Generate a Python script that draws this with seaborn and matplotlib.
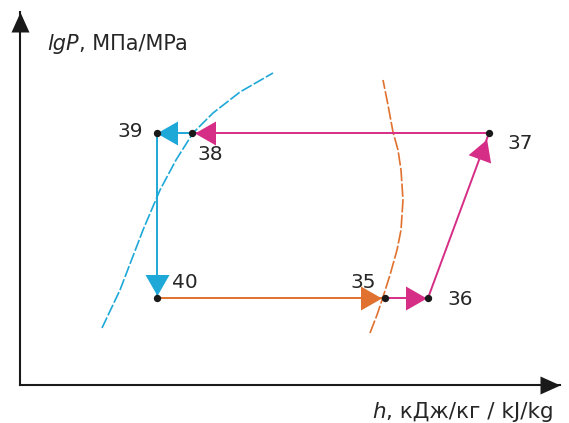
import numpy as np
import matplotlib
matplotlib.use("Agg")
import matplotlib.pyplot as plt
from matplotlib.markers import MarkerStyle
from matplotlib.path import Path
from matplotlib.transforms import Affine2D
import seaborn as sns

# State points of the cycle (h and lgP in diagram units)
state_labels = ["35", "36", "37", "38", "39", "40"]
state_h = [385, 428, 489, 192, 157, 157]
state_lgp = [125, 125, 290, 290, 290, 125]

# Saturated liquid line
liquid_h = [102, 120, 143, 160, 176, 193, 213, 240, 273]
liquid_lgp = [95, 133, 193, 233, 263, 290, 310, 331, 350]

# Saturated vapour line
vapour_h = [370, 377, 383, 390, 397, 401, 403, 401, 398, 393, 388, 383]
vapour_lgp = [90, 108, 126, 148, 173, 193, 223, 253, 273, 291, 318, 343]

CYAN = "#1ea8d8"
MAGENTA = "#d62d86"
ORANGE = "#e0712e"
INK = "#1a1a1a"
TEXT = "#262626"

# Process segments: start state, end state, colour, gap before the arrow tip
segments = [
    ("35", "36", MAGENTA, 1),
    ("36", "37", MAGENTA, 7),
    ("37", "38", MAGENTA, 3),
    ("38", "39", CYAN, 0),
    ("39", "40", CYAN, 3),
    ("40", "35", ORANGE, 3),
]

# Label offsets (pixels) relative to each state point
label_offsets = {
    "39": (-27, 2), "38": (18, -21), "37": (31, -10),
    "40": (28, 16), "35": (-22, 16), "36": (32, -1),
}

W, H = 569, 423
fig = plt.figure(figsize=(W / 100, H / 100), dpi=100)
ax = fig.add_axes([0, 0, 1, 1])
ax.set_xlim(0, W)
ax.set_ylim(0, H)
ax.axis("off")

states = {k: (h, p) for k, h, p in zip(state_labels, state_h, state_lgp)}


def draw_head(p0, p1, color, length, width, gap):
    d = np.subtract(p1, p0).astype(float)
    u = d / np.hypot(*d)
    tip = np.asarray(p1, float) - u * gap
    centre = tip - u * length / 2
    ang = np.degrees(np.arctan2(u[1], u[0]))
    path = Path([(length / 2, 0), (-length / 2, width / 2),
                 (-length / 2, -width / 2), (length / 2, 0)], closed=True)
    m = MarkerStyle(path, transform=Affine2D().rotate_deg(ang))
    ax.plot(centre[0], centre[1], marker=m, markersize=max(length, width) * 0.72,
            color=color, mew=0, ls="none", zorder=4)


# Coordinate axes with arrowheads
origin = (20, 38)
x_end = (560, 38)
y_end = (20, 411)
for end in (x_end, y_end):
    sns.lineplot(x=[origin[0], end[0]], y=[origin[1], end[1]], sort=False,
                 estimator=None, color=INK, linewidth=1.5, ax=ax)
    draw_head(origin, end, INK, 20, 18, 0)

# Saturation curves
sns.lineplot(x=liquid_h, y=liquid_lgp, sort=False, estimator=None, color=CYAN,
             linewidth=1.2, linestyle=(0, (7, 1.4)), ax=ax)
sns.lineplot(x=vapour_h, y=vapour_lgp, sort=False, estimator=None, color=ORANGE,
             linewidth=1.2, linestyle=(0, (8, 1.4)), ax=ax)

# Cycle processes
for a, b, col, gap in segments:
    p0, p1 = states[a], states[b]
    sns.lineplot(x=[p0[0], p1[0]], y=[p0[1], p1[1]], sort=False, estimator=None,
                 color=col, linewidth=1.4, ax=ax)
    draw_head(p0, p1, col, 21, 24, gap)

# State points
sns.scatterplot(x=state_h, y=state_lgp, color=INK, s=28, marker="o",
                edgecolor=INK, linewidth=0, zorder=5, ax=ax)

for k in state_labels:
    ax.annotate(k, xy=states[k], xytext=label_offsets[k], textcoords="offset pixels",
                ha="center", va="center", fontsize=14.5, color=TEXT,
                family="DejaVu Sans")

# Axis titles
t1 = ax.text(47, 373, "lgP", fontsize=15, style="italic", color=TEXT,
             family="DejaVu Sans", ha="left", va="baseline")
ax.annotate(", МПа/MPa", xy=(1, 0), xycoords=t1, va="bottom", ha="left",
            fontsize=15, color=TEXT, family="DejaVu Sans")
t2 = ax.text(372, 5, "h", fontsize=15.5, style="italic", color=TEXT,
             family="DejaVu Sans", ha="left", va="baseline")
ax.annotate(", кДж/кг / kJ/kg", xy=(1, 0), xycoords=t2, va="bottom", ha="left",
            fontsize=15.5, color=TEXT, family="DejaVu Sans")

fig.savefig("out.png", dpi=100)
